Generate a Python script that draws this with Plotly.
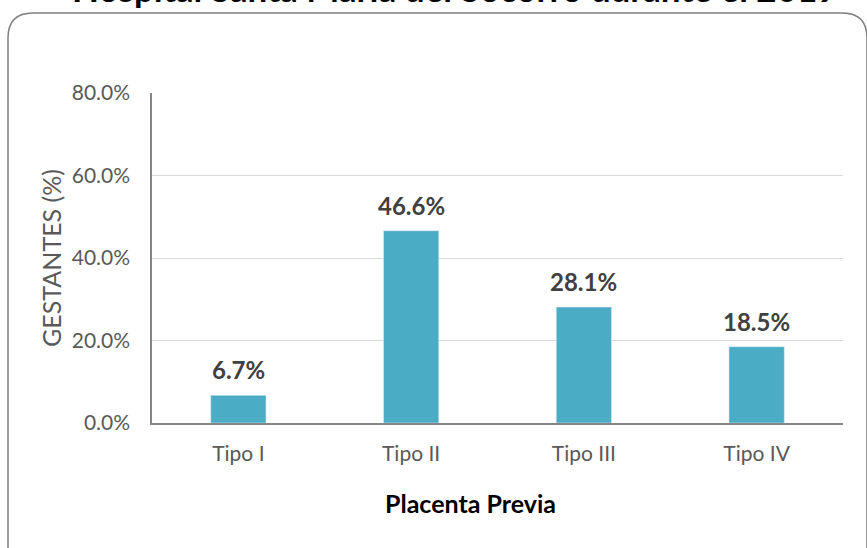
import plotly.graph_objects as go

categories = ["Tipo I", "Tipo II", "Tipo III", "Tipo IV"]
values = [0.067, 0.466, 0.281, 0.185]
labels = ["6.7%", "46.6%", "28.1%", "18.5%"]
yticks = [0, 0.2, 0.4, 0.6, 0.8]
yticklabels = ["0.0%", "20.0%", "40.0%", "60.0%", "80.0%"]

W, H = 867, 548
L, R, T, B = 152, 24, 93, 125
pw, ph = W - L - R, H - T - B

def px(x):
    return (x - L) / pw

def py(y):
    return (H - B - y) / ph

FONT = "Lato"

fig = go.Figure()
fig.add_trace(go.Bar(
    x=categories, y=values, marker_color="#4BACC6",
    cliponaxis=False, width=0.32,
))
for c, v, t in zip(categories, values, labels):
    fig.add_annotation(x=c, y=v, text=f"<b>{t}</b>", showarrow=False,
                       yanchor="bottom", yshift=9,
                       font=dict(family=FONT, size=24, color="#404040"))

# rounded border
x0, x1, y0, y1, r = 8, 867, 13, 570, 25
path = (f"M {px(x0)} {py(y0+r)} "
        f"Q {px(x0)} {py(y0)} {px(x0+r)} {py(y0)} "
        f"L {px(x1-r)} {py(y0)} "
        f"Q {px(x1)} {py(y0)} {px(x1)} {py(y0+r)} "
        f"L {px(x1)} {py(y1)} L {px(x0)} {py(y1)} Z")
fig.add_shape(type="path", path=path, xref="paper", yref="paper",
              line=dict(color="#808080", width=1.5), layer="below")

fig.add_annotation(text="<b>Hospital Santa María del Socorro durante el 2019</b>",
                   xref="paper", yref="paper", x=px(455), y=py(11),
                   xanchor="center", yanchor="bottom", showarrow=False,
                   font=dict(family=FONT, size=35, color="#000000"))

# x-axis title (centred on the chart area, as in the reference)
fig.add_annotation(text="<b>Placenta Previa</b>",
                   xref="paper", yref="paper", x=px(470), y=py(503),
                   xanchor="center", yanchor="middle", showarrow=False,
                   font=dict(family=FONT, size=25, color="#000000"))

fig.update_layout(
    width=W, height=H, margin=dict(l=L, r=R, t=T, b=B),
    paper_bgcolor="white", plot_bgcolor="white", showlegend=False,
    font=dict(family=FONT),
    xaxis=dict(showline=True, linecolor="#868686", linewidth=1.5,
               tickfont=dict(size=21, color="#595959"), ticks="",
               ticklabelstandoff=11),
    yaxis=dict(range=[0, 0.8], tickvals=yticks, ticktext=yticklabels,
               showline=True, linecolor="#868686", linewidth=1.5,
               gridcolor="#D9D9D9", gridwidth=1, zeroline=False,
               tickfont=dict(size=21, color="#595959"), ticks="",
               ticklabelstandoff=16,
               title=dict(text="GESTANTES (%)", standoff=3,
                          font=dict(size=25, color="#595959"))),
)
fig.write_html("out.html")
